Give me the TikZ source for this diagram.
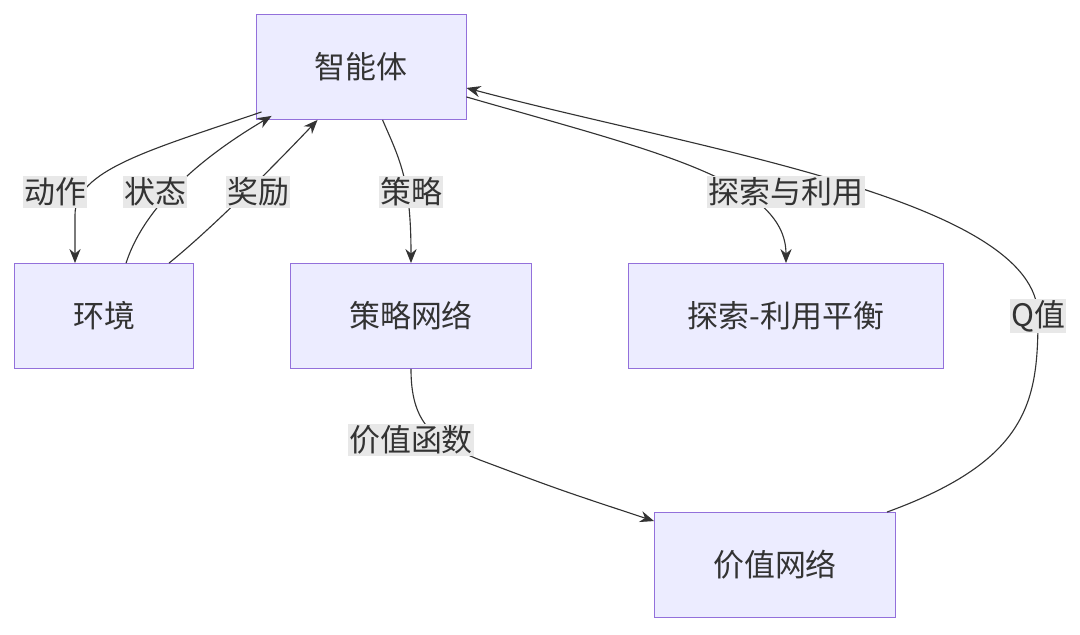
\documentclass[tikz,border=0pt]{standalone}
\usepackage{fontspec}
\setmainfont{Noto Sans CJK SC}
\usetikzlibrary{positioning, calc, arrows.meta}
\definecolor{boxfill}{HTML}{ECECFF}
\definecolor{boxline}{HTML}{9370DB}
\definecolor{lblfill}{HTML}{E8E8E8}
\definecolor{ink}{HTML}{333333}
\begin{document}
\begin{tikzpicture}[x=0.025cm, y=-0.025cm,
boxnode/.style={rectangle, draw=boxline, fill=boxfill, semithick, minimum height=2.625cm, inner sep=0pt, font=\fontsize{22}{26}\selectfont, text=ink},
lblnode/.style={fill=lblfill, inner sep=1pt, font=\fontsize{22}{26}\selectfont, text=ink},
to/.style={-{Stealth[length=10pt,width=8pt]}, draw=ink, thick},
]
\useasboundingbox (0,0) rectangle (1080,634);
%nodes
\node[boxnode, minimum width=5.25cm](ag) at (361,67) {智能体};
\node[boxnode, minimum width=4.475cm](env) at (104,316) {环境};
\node[boxnode, minimum width=6.025cm](pol) at (411,316) {策略网络};
\node[boxnode, minimum width=7.875cm](bal) at (786,316) {探索-利用平衡};
\node[boxnode, minimum width=6.025cm](val) at (775,565) {价值网络};
%connections
\draw[to] ($(ag.south west)+(6,-8)$) .. controls (150,150) and (75,170) .. (75,215) -- (env.north -| 75,0);
\draw[to] ($(env.north west)+(112,0)$) .. controls (140,220) and (180,170) .. ($(ag.south west)+(16,-4)$);
\draw[to] ($(env.north west)+(155,0)$) .. controls (210,230) and (270,170) .. ($(ag.south west)+(62,0)$);
\draw[to] ($(ag.south west)+(127,0)$) .. controls (400,160) and (411,180) .. (pol.north);
\draw[to] ($(ag.south east)+(0,-23)$) .. controls (650,150) and (786,180) .. (bal.north);
\draw[to] (pol.south) .. controls (411,420) and (430,440) .. (480,460) .. controls (560,490) .. ($(val.north west)+(0,9)$);
\draw[to] ($(val.north east)+(-9,0)$) .. controls (1030,460) and (1038,400) .. (1038,316) .. controls (1038,200) and (700,150) .. ($(ag.south east)+(0,-32)$);
%labels
\node[lblnode](l1) at (55,192) {动作};
\node[lblnode](l2) at (155,192) {状态};
\node[lblnode](l3) at (258,192) {奖励};
\node[lblnode](l4) at (411,192) {策略};
\node[lblnode](l5) at (786,192) {探索与利用};
\node[lblnode](l6) at (411,440) {价值函数};
\node[lblnode](l7) at (1038,316) {Q值};
\end{tikzpicture}
\end{document}
